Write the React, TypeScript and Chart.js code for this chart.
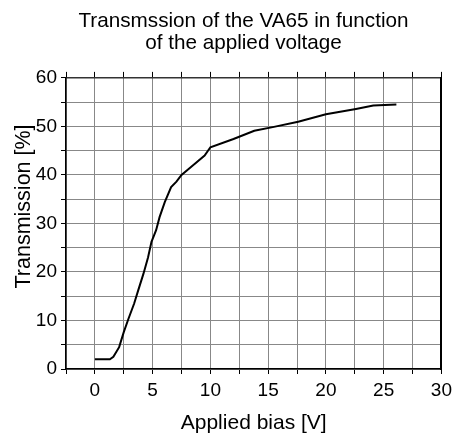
import React, { useEffect, useRef } from "react";
import { Chart, registerables } from "chart.js";

Chart.register(...registerables);

const biasVolts = [0, 0.8, 1.3, 1.6, 2.1, 2.5, 2.9, 3.4, 3.75, 4.2, 4.6, 4.9, 5.3, 5.6, 6.05, 6.6, 7.06, 7.5, 8.5, 9.5, 10, 12, 13.8, 15.5, 17.6, 20, 22.6, 24.1, 26.1];
const transmission = [2, 2, 2, 2.5, 4.5, 7.6, 10.3, 13.5, 16.2, 19.6, 23, 26.2, 28.6, 31.3, 34.4, 37.5, 38.6, 40, 42, 44, 45.7, 47.4, 49.1, 49.9, 50.95, 52.5, 53.6, 54.3, 54.5];

const chartTitle = ["Transmssion of the VA65 in function", "of the applied voltage"];
const xTitle = "Applied bias [V]";
const yTitle = "Transmission [%]";

const FONT = "'Liberation Sans', Arial, Helvetica, sans-serif";

// Draws the vertical axis title beside the y axis, slightly above the chart-area centre
const yTitlePlugin = {
  id: "yTitlePlugin",
  afterDraw(chart: any) {
    const { ctx, chartArea } = chart;
    const cy = (chartArea.top + chartArea.bottom) / 2 - 17;
    ctx.save();
    ctx.translate(24, cy);
    ctx.rotate(-Math.PI / 2);
    ctx.fillStyle = "#000";
    ctx.font = `21.5px ${FONT}`;
    ctx.textAlign = "center";
    ctx.textBaseline = "middle";
    ctx.fillText(yTitle, 0, 0);
    ctx.restore();
  },
};

export default function App() {
  const ref = useRef<HTMLCanvasElement | null>(null);

  useEffect(() => {
    document.body.style.margin = "0";
    const canvas = ref.current;
    if (!canvas) return;
    const points = biasVolts.map((x, i) => ({ x, y: transmission[i] }));
    const chart = new Chart(canvas, {
      type: "line",
      data: {
        datasets: [
          {
            data: points,
            borderColor: "#000",
            borderWidth: 2,
            pointRadius: 0,
            tension: 0,
            fill: false,
          },
        ],
      },
      plugins: [yTitlePlugin],
      options: {
        animation: false,
        responsive: false,
        maintainAspectRatio: false,
        layout: { padding: { left: 30, right: 0, top: 0, bottom: 0 } },
        plugins: {
          legend: { display: false },
          tooltip: { enabled: false },
          title: {
            display: true,
            text: chartTitle,
            color: "#000",
            font: { family: FONT, size: 20.7, weight: "normal", lineHeight: 1.06 },
            padding: { top: 10, bottom: 0 },
          },
        },
        scales: {
          x: {
            type: "linear",
            position: "bottom",
            min: -2.5,
            max: 30,
            afterFit: (s: any) => {
              s.height = 67;
            },
            ticks: {
              stepSize: 2.5,
              autoSkip: false,
              maxRotation: 0,
              color: "#000",
              font: { family: FONT, size: 19 },
              padding: 5,
              callback: (v: any) => (Number(v) % 5 === 0 ? String(v) : ""),
            },
            grid: { color: "#888", lineWidth: 1, tickColor: "#000", tickLength: 5 },
            border: { color: "#000", width: 1.5 },
            title: {
              display: true,
              text: xTitle,
              color: "#000",
              font: { family: FONT, size: 21 },
              padding: { top: 0, bottom: 0 },
            },
          },
          xTop: {
            type: "linear",
            position: "top",
            min: -2.5,
            max: 30,
            afterFit: (s: any) => {
              s.height = 24;
            },
            ticks: { stepSize: 2.5, display: false },
            grid: { drawOnChartArea: false, tickColor: "#000", tickLength: 6 },
            border: { color: "#333", width: 1.5 },
          },
          y: {
            type: "linear",
            position: "left",
            min: 0,
            max: 60,
            afterFit: (s: any) => {
              s.width = 36;
            },
            ticks: {
              stepSize: 5,
              autoSkip: false,
              color: "#000",
              font: { family: FONT, size: 19 },
              padding: 4,
              callback: (v: any) => (Number(v) % 10 === 0 ? String(v) : ""),
            },
            grid: { color: "#888", lineWidth: 1, tickColor: "#000", tickLength: 5 },
            border: { color: "#000", width: 1.5 },
            title: { display: false },
          },
          yRight: {
            type: "linear",
            position: "right",
            min: 0,
            max: 60,
            afterFit: (s: any) => {
              s.width = 14;
            },
            ticks: { display: false },
            grid: { drawOnChartArea: false, drawTicks: false },
            border: { color: "#000", width: 2 },
          },
        },
      },
    });
    return () => chart.destroy();
  }, []);

  return (
    <div style={{ width: 457, height: 436, background: "#fff" }}>
      <canvas ref={ref} width={457} height={436} style={{ display: "block" }} />
    </div>
  );
}
